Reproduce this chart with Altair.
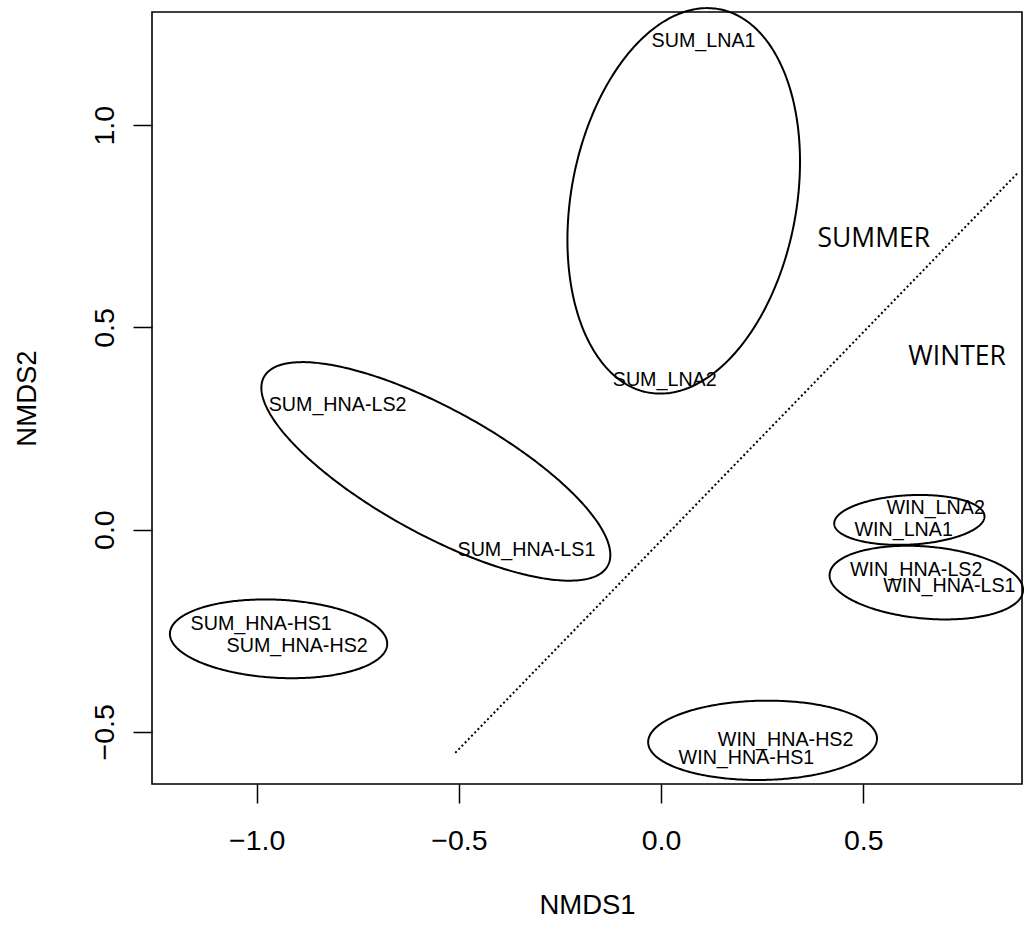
import altair as alt
import numpy as np
import pandas as pd

# NMDS site scores
site_names = [
    "SUM_LNA1", "SUM_LNA2", "SUM_HNA-LS2", "SUM_HNA-LS1", "SUM_HNA-HS1", "SUM_HNA-HS2",
    "WIN_HNA-HS2", "WIN_HNA-HS1", "WIN_LNA2", "WIN_LNA1", "WIN_HNA-LS2", "WIN_HNA-LS1",
]
nmds1 = [0.105, 0.009, -0.800, -0.333, -0.989, -0.900,
         0.308, 0.211, 0.679, 0.600, 0.631, 0.713]
nmds2 = [1.208, 0.369, 0.307, -0.050, -0.233, -0.287,
         -0.520, -0.564, 0.054, -0.002, -0.101, -0.139]

# group ellipses: centre, semi-axes and rotation of the major axis (degrees)
ell_groups = ["SUM_LNA", "SUM_HNA-LS", "SUM_HNA-HS", "WIN_HNA-HS", "WIN_LNA", "WIN_HNA-LS"]
ell_cx = [0.056, -0.557, -0.946, 0.251, 0.614, 0.656]
ell_cy = [0.813, 0.144, -0.270, -0.521, 0.024, -0.131]
ell_a = [0.482, 0.485, 0.269, 0.283, 0.186, 0.240]
ell_b = [0.2785, 0.155, 0.0965, 0.098, 0.061, 0.089]
ell_angle = [79.5, -28.8, -3.0, 1.0, 3.0, -5.0]

# dotted line separating the seasons
divider_x = [-0.509, 0.884]
divider_y = [-0.552, 0.884]

# season annotations
season_labels = ["SUMMER", "WINTER"]
season_x = [0.526, 0.732]
season_y = [0.718, 0.426]

x_ticks = [-1.0, -0.5, 0.0, 0.5]
y_ticks = [-0.5, 0.0, 0.5, 1.0]

# outline points for each ellipse
rows = []
t = np.linspace(0, 2 * np.pi, 361)
for g, cx, cy, a, b, ang in zip(ell_groups, ell_cx, ell_cy, ell_a, ell_b, ell_angle):
    phi = np.deg2rad(ang)
    ex = cx + a * np.cos(t) * np.cos(phi) - b * np.sin(t) * np.sin(phi)
    ey = cy + a * np.cos(t) * np.sin(phi) + b * np.sin(t) * np.cos(phi)
    for i, (px, py) in enumerate(zip(ex, ey)):
        rows.append({"group": g, "i": i, "x": px, "y": py})
ellipses = pd.DataFrame(rows)

sites = pd.DataFrame({"label": site_names, "x": nmds1, "y": nmds2})
divider = pd.DataFrame({"x": divider_x, "y": divider_y, "i": [0, 1]})
seasons = pd.DataFrame({"label": season_labels, "x": season_x, "y": season_y})

FONT = "Liberation Sans"
xscale = alt.Scale(domain=[-1.259, 0.8926], nice=False, zero=False)
yscale = alt.Scale(domain=[-0.629, 1.280], nice=False, zero=False)

x_axis = alt.Axis(
    values=x_ticks, format=".1f", title="NMDS1", grid=False, domain=False,
    tickSize=19, tickWidth=1.5, tickColor="black",
    labelFont=FONT, labelFontSize=28.5, labelColor="black", labelPadding=23.5,
    labelFlush=False, labelOverlap=False,
    titleFont=FONT, titleFontSize=27.5, titleFontWeight="normal", titleColor="black",
    titleY=121, titleBaseline="middle",
)
y_axis = alt.Axis(
    values=y_ticks, format=".1f", title="NMDS2", grid=False, domain=False,
    tickSize=19, tickWidth=1.5, tickColor="black",
    labelFont=FONT, labelFontSize=28.5, labelColor="black", labelPadding=19.5,
    labelAngle=270, labelAlign="center", labelBaseline="alphabetic",
    labelFlush=False, labelOverlap=False,
    titleFont=FONT, titleFontSize=27.5, titleFontWeight="normal", titleColor="black",
    titleX=-125, titleBaseline="middle",
)

X = alt.X("x:Q", scale=xscale, axis=x_axis)
Y = alt.Y("y:Q", scale=yscale, axis=y_axis)

# ellipses may poke slightly past the frame, as in base graphics
ellipse_layer = alt.Chart(ellipses).mark_line(
    color="black", strokeWidth=2
).encode(x=X, y=Y, detail="group:N", order="i:Q")

divider_layer = alt.Chart(divider).mark_line(
    color="black", strokeWidth=2, strokeDash=[2, 2.6], clip=True
).encode(x=X, y=Y, order="i:Q")

site_layer = alt.Chart(sites).mark_text(
    font=FONT, fontSize=19.7, color="black", align="center", baseline="middle"
).encode(x=X, y=Y, text="label:N")

season_layer = alt.Chart(seasons).mark_text(
    font="Open Sans", fontSize=26.5, color="black", align="center", baseline="middle"
).encode(x=X, y=Y, text="label:N")

chart = alt.layer(ellipse_layer, divider_layer, site_layer, season_layer).properties(
    width=870,
    height=772,
    autosize=alt.AutoSizeParams(type="none"),
    padding={"left": 152, "top": 12, "right": 2, "bottom": 145},
    background="white",
).configure_view(stroke="black", strokeWidth=1.6)

chart.save("out.html", embed_options={"renderer": "svg", "actions": False})
